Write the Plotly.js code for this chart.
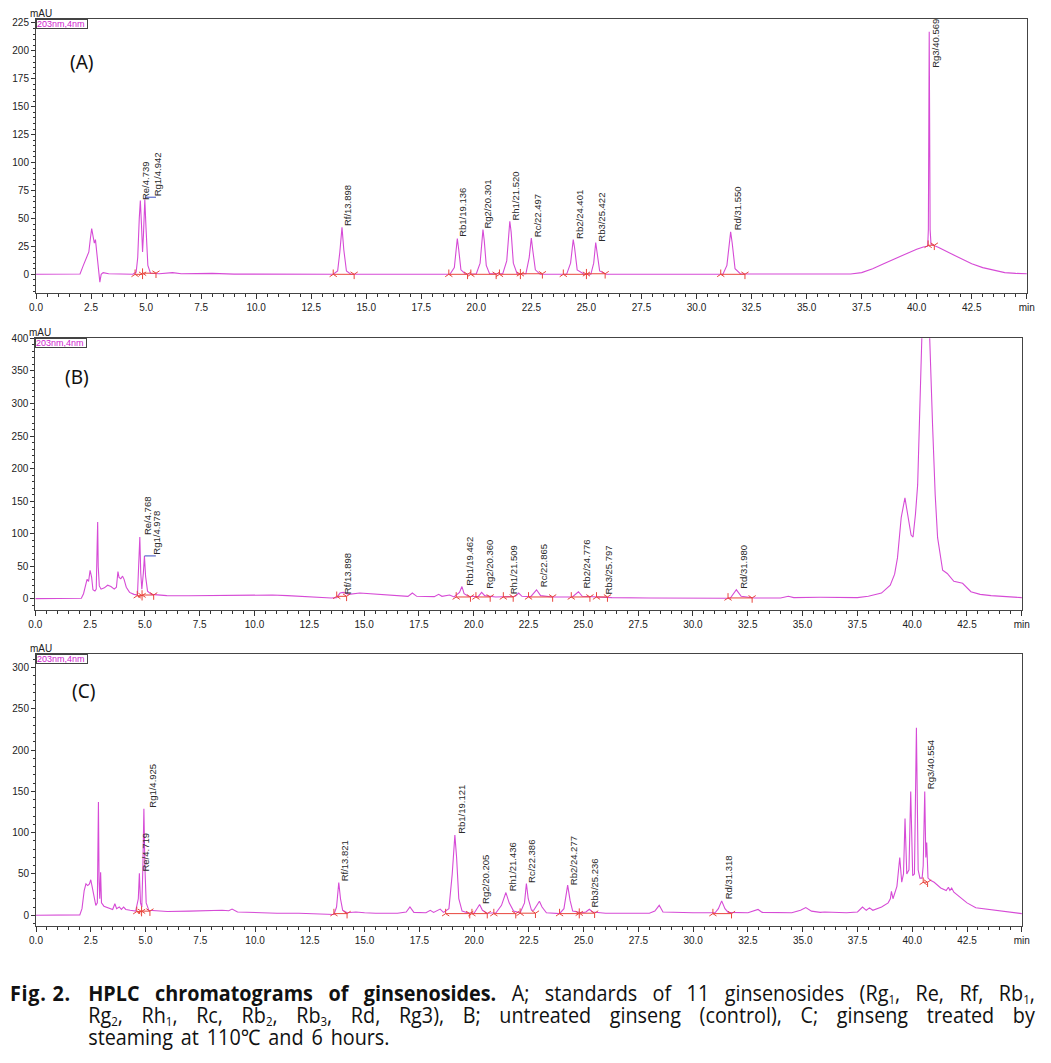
<!DOCTYPE html>
<html>
<head>
<meta charset="utf-8">
<script src="https://cdn.plot.ly/plotly-3.0.1.min.js"></script>
<style>
body { margin: 0; background: #fff; }
#plot { position: absolute; left: 0; top: 0; width: 1051px; height: 960px; }
#cap {
    position: absolute; left: 10px; top: 982px; display: flex;
    transform: scaleX(0.92); transform-origin: 0 0;
    font-family: "Open Sans", "Noto Sans", sans-serif; font-size: 21.5px; line-height: 21.7px; color: #111;
}
#cap .lbl { width: 85px; font-weight: bold; letter-spacing: 0.8px; }
#cap .txt { width: 1029px; }
#cap .ln { text-align: justify; text-align-last: justify; }
#cap .ln.last { text-align-last: left; word-spacing: 3px; }
#cap .sb { display: inline-block; font-size: 12.5px; line-height: 9px; height: 9px; vertical-align: -3px; }
</style>
</head>
<body>
<div id="plot"></div>
<div id="cap">
    <div class="lbl">Fig. 2.</div>
    <div class="txt">
        <div class="ln"><b>HPLC chromatograms of ginsenosides.</b> A; standards of 11 ginsenosides (Rg<span class="sb">1</span>, Re, Rf, Rb<span class="sb">1</span>,</div>
        <div class="ln">Rg<span class="sb">2</span>, Rh<span class="sb">1</span>, Rc, Rb<span class="sb">2</span>, Rb<span class="sb">3</span>, Rd, Rg3), B; untreated ginseng (control), C; ginseng treated by</div>
        <div class="ln last">steaming at 110℃ and 6 hours.</div>
    </div>
</div>
<script>
// [retention time (min), absorbance (mAU)]
let chromA = [[0, 0], [1, 0], [2, 0.3], [2.15, 8], [2.3, 15], [2.4, 20], [2.47, 32], [2.53, 41], [2.6, 33], [2.65, 28], [2.7, 31],
    [2.76, 18], [2.83, 3], [2.9, -7], [2.96, 0], [3.05, 1.5], [3.3, 0.5], [4.4, 0], [4.55, 2], [4.62, 15], [4.69, 50], [4.739, 66],
    [4.79, 45], [4.84, 20], [4.88, 35], [4.942, 67], [5, 40], [5.08, 8], [5.2, 1], [5.6, 0.5], [6.2, 1.5], [6.6, 0.5], [8, 0.8],
    [9, 0.2], [13.5, 0], [13.7, 3], [13.8, 20], [13.898, 42], [13.98, 22], [14.1, 3], [14.3, 0], [18.8, 0], [19, 6], [19.08, 22],
    [19.136, 32], [19.2, 22], [19.3, 4], [19.5, 0.3], [20, 0.5], [20.17, 10], [20.25, 32], [20.301, 40], [20.36, 30], [20.45, 8],
    [20.6, 0.5], [21.2, 0.5], [21.38, 12], [21.46, 38], [21.52, 47.5], [21.58, 38], [21.68, 10], [21.85, 0.5], [22.25, 0.5],
    [22.4, 15], [22.497, 32.5], [22.56, 22], [22.68, 4], [22.9, 0], [24.1, 0], [24.28, 10], [24.35, 25], [24.401, 31], [24.46, 24],
    [24.58, 4], [24.9, 0], [25.2, 0], [25.33, 10], [25.38, 22], [25.422, 28.5], [25.48, 20], [25.6, 3], [25.9, 0], [31.2, 0],
    [31.38, 8], [31.48, 30], [31.55, 38], [31.62, 28], [31.75, 5], [32, 0.3], [37, 0.3], [37.5, 1.5], [38, 5], [38.5, 9.5],
    [39, 14], [39.5, 18.5], [40, 22.5], [40.3, 24.5], [40.5, 25], [40.53, 40], [40.55, 180], [40.569, 217], [40.585, 150],
    [40.61, 40], [40.65, 27], [40.8, 26], [41, 24], [41.5, 19], [42, 14], [42.5, 9.5], [43, 6], [43.5, 3.5], [44, 1.5],
    [44.5, 0.8], [45, 0.5]]

let chromB = [[0, 0.5], [1, 0.5], [2.1, 1], [2.2, 8], [2.3, 25], [2.36, 30], [2.43, 27], [2.5, 44], [2.57, 33], [2.63, 14],
    [2.72, 12], [2.78, 15], [2.82, 80], [2.845, 118], [2.87, 50], [2.92, 20], [3, 15], [3.15, 17], [3.3, 21], [3.45, 19],
    [3.6, 15], [3.7, 18], [3.77, 42], [3.82, 33], [3.9, 31], [3.98, 35], [4.05, 30], [4.15, 18], [4.3, 10], [4.5, 7], [4.66, 6],
    [4.72, 50], [4.768, 95], [4.81, 40], [4.86, 15], [4.93, 40], [4.978, 66], [5.03, 35], [5.12, 12], [5.3, 7], [5.6, 6], [6, 5],
    [7, 4.8], [8, 5], [9, 4.5], [10, 5], [10.8, 6], [11.5, 5], [12.5, 3], [13.5, 1.5], [13.75, 2], [13.9, 9], [14.05, 10],
    [14.3, 7], [14.8, 9], [15.5, 7.5], [16.5, 4.5], [17, 4], [17.2, 9], [17.4, 4], [18.2, 3.5], [18.4, 7], [18.55, 4], [18.9, 6],
    [19.1, 3], [19.35, 10], [19.462, 19], [19.56, 8], [19.75, 4], [20.2, 3.5], [20.36, 10], [20.5, 5], [21, 3], [21.5, 4],
    [21.9, 4], [22.05, 9], [22.2, 4], [22.6, 3.5], [22.865, 14], [23.05, 5], [23.6, 3], [24.5, 3], [24.776, 11], [24.95, 4],
    [25.8, 3], [26.3, 2], [28, 1.5], [30, 1], [31.7, 1], [31.98, 14], [32.2, 4], [32.8, 1.5], [34, 1.5], [34.35, 4], [34.6, 2],
    [35.8, 2.5], [36.5, 2], [37.5, 2], [38, 4], [38.3, 6], [38.6, 9], [39, 21], [39.2, 38], [39.33, 63], [39.5, 125], [39.67, 155],
    [39.8, 130], [39.95, 98], [40.04, 95], [40.15, 130], [40.25, 175], [40.35, 290], [40.44, 400], [40.6, 440], [40.8, 400],
    [40.93, 267], [41.05, 160], [41.16, 94], [41.39, 44], [41.6, 39], [41.9, 27], [42.3, 24], [42.5, 17], [42.68, 11],
    [43.1, 7], [43.6, 5], [44.3, 3.5], [45, 2]]

let chromC = [[0, 0], [1, 0], [2, 0.5], [2.1, 8], [2.2, 30], [2.28, 38], [2.36, 36], [2.44, 38], [2.5, 43], [2.56, 35],
    [2.65, 20], [2.73, 12], [2.8, 15], [2.83, 100], [2.85, 137], [2.88, 40], [2.91, 20], [2.95, 52], [2.99, 15], [3.1, 11],
    [3.3, 9], [3.5, 7], [3.6, 14], [3.68, 8], [3.8, 10], [3.9, 7], [4, 10], [4.1, 7], [4.3, 6], [4.55, 5], [4.67, 20], [4.719, 51],
    [4.77, 15], [4.83, 10], [4.88, 60], [4.925, 129], [4.97, 60], [5.03, 15], [5.15, 6], [5.5, 5], [6, 4.5], [7, 5], [8, 6],
    [8.5, 6], [8.8, 5.5], [8.95, 7.5], [9.2, 4], [10, 3], [11, 2.5], [12, 2.5], [13, 2], [13.6, 1], [13.72, 10], [13.821, 39.7],
    [13.9, 20], [14, 6], [14.2, 3], [14.6, 4], [15, 3], [15.5, 2.5], [16.5, 2.5], [16.9, 4], [17.07, 10], [17.25, 3.5], [17.8, 3],
    [18, 6], [18.15, 3.5], [18.45, 7.5], [18.6, 3.5], [18.85, 8], [19, 50], [19.121, 97], [19.2, 70], [19.3, 20], [19.45, 5],
    [19.7, 3], [20, 2.5], [20.15, 8], [20.25, 13], [20.38, 6], [20.6, 2.5], [21, 3], [21.25, 12], [21.45, 27.5], [21.6, 15],
    [21.8, 5], [22.1, 3], [22.3, 15], [22.386, 38.4], [22.47, 20], [22.62, 6], [22.72, 6], [22.85, 12], [22.98, 17], [23.1, 10],
    [23.3, 3], [23.9, 2], [24.1, 8], [24.27, 36.4], [24.38, 18], [24.5, 5], [24.9, 3], [25.1, 4], [25.26, 7.3], [25.4, 4],
    [26, 2.5], [28, 2.5], [28.25, 5], [28.45, 12], [28.62, 4], [30, 3], [31, 3], [31.15, 8], [31.3, 17.4], [31.45, 8], [31.6, 3.5],
    [32.5, 3], [32.8, 5], [32.96, 7], [33.15, 3.5], [34.5, 3], [34.9, 6], [35.14, 9.3], [35.4, 5], [35.8, 3.5], [36, 4],
    [36.5, 3.5], [37, 3], [37.5, 4], [37.73, 10], [37.9, 6], [38.05, 9], [38.2, 6], [38.6, 10], [38.9, 15], [39, 20], [39.05, 29],
    [39.12, 20], [39.3, 35], [39.43, 70], [39.52, 40], [39.6, 50], [39.67, 117], [39.75, 50], [39.85, 55], [39.93, 150],
    [40.02, 48], [40.1, 50], [40.19, 227], [40.27, 55], [40.35, 45], [40.45, 45], [40.5, 60], [40.57, 150], [40.62, 70],
    [40.66, 88], [40.72, 45], [40.85, 42], [41, 40], [41.3, 33], [41.55, 30], [41.65, 34], [41.72, 30], [41.8, 33], [41.9, 28],
    [42.1, 24], [42.3, 20], [42.5, 15], [42.9, 9], [43.2, 8], [44, 5], [45, 2]]

let xTickVals = [0, 2.5, 5, 7.5, 10, 12.5, 15, 17.5, 20, 22.5, 25, 27.5, 30, 32.5, 35, 37.5, 40, 42.5, 45]
let xTickText = ['0.0', '2.5', '5.0', '7.5', '10.0', '12.5', '15.0', '17.5', '20.0', '22.5', '25.0', '27.5', '30.0',
    '32.5', '35.0', '37.5', '40.0', '42.5', 'min']

// peak labels (name/retention time) and where their foot sits
let peakNamesA = ['Re/4.739', 'Rg1/4.942', 'Rf/13.898', 'Rb1/19.136', 'Rg2/20.301', 'Rh1/21.520', 'Rc/22.497',
    'Rb2/24.401', 'Rb3/25.422', 'Rd/31.550', 'Rg3/40.569']
let peakXA = [4.95, 5.5, 14.12, 19.39, 20.53, 21.77, 22.76, 24.65, 25.67, 31.85, 40.86]
let peakYA = [66, 69, 42.6, 33, 39.6, 47, 32, 31, 28, 38.7, 184]

let peakNamesB = ['Re/4.768', 'Rg1/4.978', 'Rf/13.898', 'Rb1/19.462', 'Rg2/20.360', 'Rh1/21.509', 'Rc/22.865',
    'Rb2/24.776', 'Rb3/25.797', 'Rd/31.980']
let peakXB = [5.09, 5.54, 14.22, 19.77, 20.72, 21.83, 23.17, 25.13, 26.14, 32.33]
let peakYB = [97, 66, 5, 19, 14, 6, 16, 14, 5, 14]

let peakNamesC = ['Re/4.719', 'Rg1/4.925', 'Rf/13.821', 'Rb1/19.121', 'Rg2/20.205', 'Rh1/21.436', 'Rc/22.386',
    'Rb2/24.277', 'Rb3/25.236', 'Rd/31.318', 'Rg3/40.554']
let peakXC = [5.0, 5.28, 14.12, 19.41, 20.49, 21.74, 22.65, 24.55, 25.49, 31.61, 40.84]
let peakYC = [51.8, 128.6, 39.7, 97, 13, 27.5, 37.6, 35.6, 8, 18.6, 151.7]

// integration baselines: start, end, level (mAU)
let baseStartA = [4.5, 4.84, 13.5, 18.75, 19.75, 21.05, 22.0, 23.95, 25.0, 31.1, 40.52]
let baseEndA = [4.84, 5.45, 14.45, 19.6, 20.9, 22.0, 23.0, 25.0, 25.85, 32.2, 40.8]
let baseLevelA = [0, 1, 0, 0, 0, 0, 0.5, 0, 0.5, 0, 26]

let baseStartB = [4.65, 4.87, 13.75, 19.2, 20.1, 21.35, 22.5, 24.45, 25.6, 31.6]
let baseEndB = [4.87, 5.4, 14.2, 19.85, 20.75, 21.8, 23.6, 25.3, 26.1, 32.7]
let baseLevelB = [5, 6, 4, 3, 3, 3, 3, 3, 3, 1.5]

let baseStartC = [4.6, 4.82, 13.6, 18.7, 19.9, 20.9, 22.1, 23.9, 24.8, 30.9, 40.5]
let baseEndC = [4.82, 5.2, 14.2, 19.8, 20.6, 21.9, 22.8, 24.8, 25.5, 31.75, 40.7]
let baseLevelC = [4.5, 5, 2, 2, 2, 2, 2.5, 2, 2.5, 2, 40]

// label leader for Rg1 in A and B: [from, to, level]
let leaderA = [4.95, 5.45, 69]
let leaderB = [4.98, 5.5, 66]

let plotW = 1051, plotH = 960
let tickFont = { family: 'Liberation Sans, Arial, sans-serif', size: 10, color: '#222' }

let buildPanel = function (n, chrom, bStart, bEnd, bLevel, leader) {
    let xa = n === 1 ? 'x' : 'x' + n
    let ya = n === 1 ? 'y' : 'y' + n
    let traces = []
    traces.push({
        x: chrom.map(p => p[0]), y: chrom.map(p => p[1]), xaxis: xa, yaxis: ya,
        mode: 'lines', line: { color: '#d64bd6', width: 1.1 }, hoverinfo: 'skip'
    })
    let bx = [], by = []
    bStart.forEach((s, i) => { bx.push(s, bEnd[i], null); by.push(bLevel[i], bLevel[i], null) })
    traces.push({ x: bx, y: by, xaxis: xa, yaxis: ya, mode: 'lines', line: { color: '#e8453c', width: 1 }, hoverinfo: 'skip' })
    traces.push({
        x: bStart, y: bLevel, xaxis: xa, yaxis: ya, mode: 'markers', hoverinfo: 'skip',
        marker: { symbol: 'y-up', size: 6, line: { color: '#e8453c', width: 1 } }
    })
    traces.push({
        x: bEnd, y: bLevel, xaxis: xa, yaxis: ya, mode: 'markers', hoverinfo: 'skip',
        marker: { symbol: 'y-down', size: 6, line: { color: '#e8453c', width: 1 } }
    })
    if (leader) {
        traces.push({
            x: [leader[0], leader[1]], y: [leader[2], leader[2]], xaxis: xa, yaxis: ya,
            mode: 'lines', line: { color: '#3a4fc0', width: 1 }, hoverinfo: 'skip'
        })
    }
    return traces
}

let xAxis = function (left, right, anchor) {
    return {
        domain: [left / plotW, right / plotW], anchor: anchor, range: [0, 45.01],
        tickmode: 'array', tickvals: xTickVals, ticktext: xTickText,
        ticks: 'outside', ticklen: 5, tickcolor: '#333', tickfont: tickFont,
        minor: { tickmode: 'linear', tick0: 0, dtick: 0.5, ticks: 'outside', ticklen: 3, tickcolor: '#333' },
        showline: true, linecolor: '#444', linewidth: 1, mirror: true,
        showgrid: false, zeroline: false, fixedrange: true
    }
}

let yAxis = function (top, bottom, anchor, range, dtick, minor) {
    return {
        domain: [1 - bottom / plotH, 1 - top / plotH], anchor: anchor, range: range,
        tick0: 0, dtick: dtick, ticks: 'outside', ticklen: 4, tickcolor: '#333', tickfont: tickFont,
        minor: { tick0: 0, dtick: minor, ticks: 'outside', ticklen: 2, tickcolor: '#333' },
        showline: true, linecolor: '#444', linewidth: 1, mirror: true,
        showgrid: false, zeroline: false, fixedrange: true
    }
}

let panelNotes = function (n, letter, lx, ly, names, px, py) {
    let xa = n === 1 ? 'x' : 'x' + n
    let ya = n === 1 ? 'y' : 'y' + n
    let notes = []
    notes.push({
        xref: xa, yref: ya, x: lx, y: ly, text: letter, showarrow: false,
        font: { family: 'Noto Sans, Open Sans, sans-serif', size: 19, color: '#111' }
    })
    notes.push({
        xref: xa + ' domain', yref: ya + ' domain', x: 0, y: 1, xanchor: 'left', yanchor: 'bottom',
        xshift: -7, yshift: -1, text: 'mAU', showarrow: false, borderpad: 0,
        font: { family: 'Liberation Sans, Arial, sans-serif', size: 10, color: '#222' }
    })
    notes.push({
        xref: xa + ' domain', yref: ya + ' domain', x: 0, y: 1, xanchor: 'left', yanchor: 'top',
        text: '203nm,4nm', showarrow: false, align: 'left', width: 50, height: 8,
        bgcolor: '#fff', bordercolor: '#444', borderwidth: 1, borderpad: 0,
        font: { family: 'Liberation Sans, Arial, sans-serif', size: 9, color: '#d020d0' }
    })
    names.forEach((name, i) => {
        notes.push({
            xref: xa, yref: ya, x: px[i], y: py[i], text: name, textangle: -90,
            xanchor: 'center', yanchor: 'bottom', showarrow: false, borderpad: 0,
            font: { family: 'Liberation Sans, Arial, sans-serif', size: 9.5, color: '#2a2a2a' }
        })
    })
    return notes
}

let data = []
    .concat(buildPanel(1, chromA, baseStartA, baseEndA, baseLevelA, leaderA))
    .concat(buildPanel(2, chromB, baseStartB, baseEndB, baseLevelB, leaderB))
    .concat(buildPanel(3, chromC, baseStartC, baseEndC, baseLevelC, null))

let layout = {
    width: plotW, height: plotH,
    margin: { l: 0, r: 0, t: 0, b: 0 },
    showlegend: false,
    paper_bgcolor: '#fff', plot_bgcolor: '#fff',
    xaxis: xAxis(36, 1027, 'y'),
    yaxis: yAxis(19, 293.3, 'x', [-17, 228.5], 25, 5),
    xaxis2: xAxis(35.3, 1022, 'y2'),
    yaxis2: yAxis(338.3, 610, 'x2', [-17, 400], 50, 10),
    xaxis3: xAxis(36, 1022, 'y3'),
    yaxis3: yAxis(654.3, 926, 'x3', [-13, 316], 50, 10),
    annotations: []
        .concat(panelNotes(1, '(A)', 2.1, 190, peakNamesA, peakXA, peakYA))
        .concat(panelNotes(2, '(B)', 1.89, 341, peakNamesB, peakXB, peakYB))
        .concat(panelNotes(3, '(C)', 2.16, 271, peakNamesC, peakXC, peakYC))
}

Plotly.newPlot('plot', data, layout, { displayModeBar: false, staticPlot: true })
</script>
</body>
</html>
